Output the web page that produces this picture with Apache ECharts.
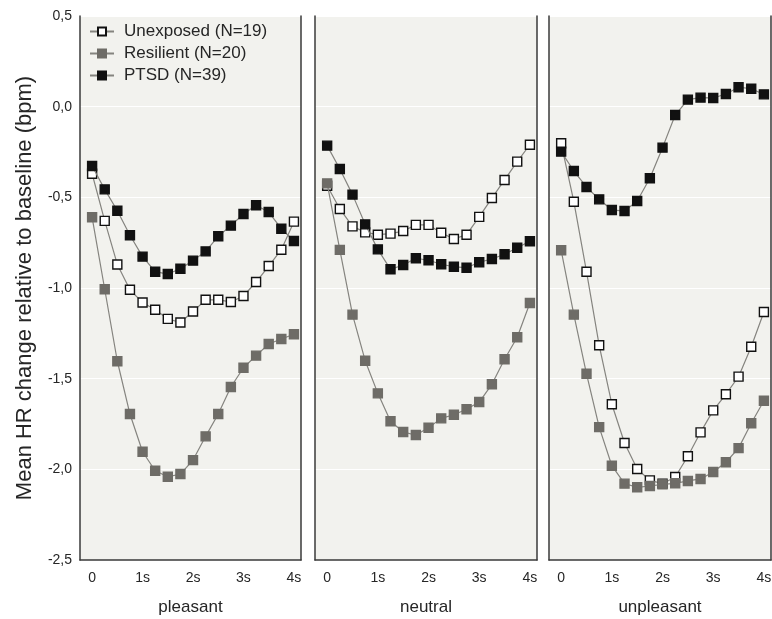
<!DOCTYPE html>
<html>
<head>
<meta charset="utf-8">
<script src="https://cdn.jsdelivr.net/npm/echarts@6/dist/echarts.min.js"></script>
<style>
  html, body { margin: 0; padding: 0; background: #fff; }
  #chart { width: 772px; height: 619px; }
</style>
</head>
<body>
<div id="chart"></div>
<script>
// Time after picture onset (seconds), one sample every 250 ms
const times = [0, 0.25, 0.5, 0.75, 1, 1.25, 1.5, 1.75, 2, 2.25, 2.5, 2.75, 3, 3.25, 3.5, 3.75, 4];
const conditions = ['pleasant', 'neutral', 'unpleasant'];
const groups = ['Unexposed (N=19)', 'Resilient (N=20)', 'PTSD (N=39)'];
const xTickValues = [0, 1, 2, 3, 4];

// Mean HR change relative to baseline (bpm)
const unexposedPleasant = [-0.37, -0.63, -0.87, -1.01, -1.08, -1.12, -1.17, -1.19, -1.13, -1.065, -1.065, -1.077, -1.044, -0.967, -0.879, -0.789, -0.634];
const resilientPleasant = [-0.61, -1.007, -1.404, -1.695, -1.903, -2.008, -2.041, -2.026, -1.949, -1.818, -1.695, -1.546, -1.44, -1.373, -1.309, -1.281, -1.255];
const ptsdPleasant = [-0.327, -0.456, -0.574, -0.709, -0.827, -0.91, -0.923, -0.894, -0.849, -0.798, -0.715, -0.656, -0.592, -0.544, -0.581, -0.673, -0.741];

const unexposedNeutral = [-0.436, -0.564, -0.66, -0.693, -0.706, -0.7, -0.686, -0.652, -0.652, -0.695, -0.73, -0.706, -0.608, -0.504, -0.404, -0.303, -0.21];
const resilientNeutral = [-0.423, -0.79, -1.147, -1.401, -1.581, -1.735, -1.794, -1.811, -1.771, -1.719, -1.699, -1.669, -1.629, -1.531, -1.393, -1.272, -1.083];
const ptsdNeutral = [-0.215, -0.344, -0.485, -0.649, -0.787, -0.897, -0.873, -0.836, -0.847, -0.869, -0.883, -0.888, -0.858, -0.84, -0.814, -0.778, -0.742];

const unexposedUnpleasant = [-0.202, -0.524, -0.91, -1.316, -1.641, -1.855, -1.998, -2.061, -2.079, -2.042, -1.928, -1.796, -1.675, -1.586, -1.489, -1.324, -1.132];
const resilientUnpleasant = [-0.792, -1.147, -1.473, -1.767, -1.98, -2.079, -2.099, -2.092, -2.083, -2.077, -2.064, -2.053, -2.015, -1.961, -1.883, -1.746, -1.622];
const ptsdUnpleasant = [-0.248, -0.355, -0.443, -0.511, -0.57, -0.575, -0.52, -0.395, -0.226, -0.046, 0.039, 0.05, 0.048, 0.07, 0.107, 0.099, 0.068];

const panelData = [
  [unexposedPleasant, resilientPleasant, ptsdPleasant],
  [unexposedNeutral, resilientNeutral, ptsdNeutral],
  [unexposedUnpleasant, resilientUnpleasant, ptsdUnpleasant]
];

const FONT = '"Liberation Sans", Arial, sans-serif';
const TEXT = '#262626';
const LINE = '#85847f';
const FRAME = '#3a3a3a';

const groupStyles = [
  { color: '#ffffff', borderColor: '#111111' },
  { color: '#6e6c67', borderColor: '#6e6c67' },
  { color: '#111111', borderColor: '#111111' }
];

const panelLeft = [80, 315, 549];
const panelWidth = [221, 222, 222];

const grids = [], xAxes = [], yAxes = [], series = [];
conditions.forEach((cond, p) => {
  grids.push({
    left: panelLeft[p], width: panelWidth[p], top: 16, height: 544,
    outerBoundsMode: 'none', containLabel: false,
    show: true, backgroundColor: '#f2f2ee', borderWidth: 0
  });
  xAxes.push({
    type: 'value', gridIndex: p, min: -0.24, max: 4.14,
    name: cond, nameLocation: 'middle', nameGap: 39,
    nameTextStyle: { fontFamily: FONT, fontSize: 17, color: TEXT },
    axisLine: { show: true, onZero: false, lineStyle: { color: FRAME, width: 1.5 } },
    axisTick: { show: false },
    splitLine: { show: false },
    axisLabel: {
      customValues: xTickValues,
      fontFamily: FONT, fontSize: 14, color: TEXT, margin: 11,
      formatter: v => (v === 0 ? '0' : v + 's')
    }
  });
  // left frame, with tick labels and title on the first panel
  yAxes.push({
    type: 'value', gridIndex: p, min: -2.5, max: 0.5, interval: 0.5,
    name: p === 0 ? 'Mean HR change relative to baseline (bpm)' : '',
    nameLocation: 'middle', nameGap: 44, nameRotate: 90,
    nameTextStyle: { fontFamily: FONT, fontSize: 22, color: TEXT },
    axisLine: { show: true, onZero: false, lineStyle: { color: FRAME, width: 1.5 } },
    axisTick: { show: false },
    splitLine: { show: true, lineStyle: { color: '#ffffff', width: 1 } },
    axisLabel: {
      show: p === 0, fontFamily: FONT, fontSize: 14, color: TEXT, margin: 8,
      formatter: v => v.toFixed(1).replace('.', ',')
    }
  });
  // right frame line
  yAxes.push({
    type: 'value', gridIndex: p, position: 'right', min: -2.5, max: 0.5, interval: 0.5,
    axisLine: { show: true, onZero: false, lineStyle: { color: FRAME, width: 1.5 } },
    axisTick: { show: false }, axisLabel: { show: false }, splitLine: { show: false }
  });

  groups.forEach((g, k) => {
    series.push({
      name: g, type: 'line', xAxisIndex: p, yAxisIndex: p * 2,
      data: times.map((t, i) => [t, panelData[p][k][i]]),
      symbol: 'rect', symbolSize: 9,
      lineStyle: { color: LINE, width: 1.2 },
      itemStyle: { color: groupStyles[k].color, borderColor: groupStyles[k].borderColor, borderWidth: 1.4 },
      emphasis: { disabled: true },
      animation: false, z: 3 + k
    });
  });
});

const chart = echarts.init(document.getElementById('chart'), null, { renderer: 'canvas' });
chart.setOption({
  backgroundColor: '#ffffff',
  animation: false,
  legend: {
    data: groups, orient: 'vertical', left: 84, top: 18,
    itemWidth: 24, itemHeight: 10, itemGap: 5,
    textStyle: { fontFamily: FONT, fontSize: 17, color: TEXT, padding: [0, 0, 0, 5] },
    selectedMode: false
  },
  grid: grids,
  xAxis: xAxes,
  yAxis: yAxes,
  series: series
});
</script>
</body>
</html>
